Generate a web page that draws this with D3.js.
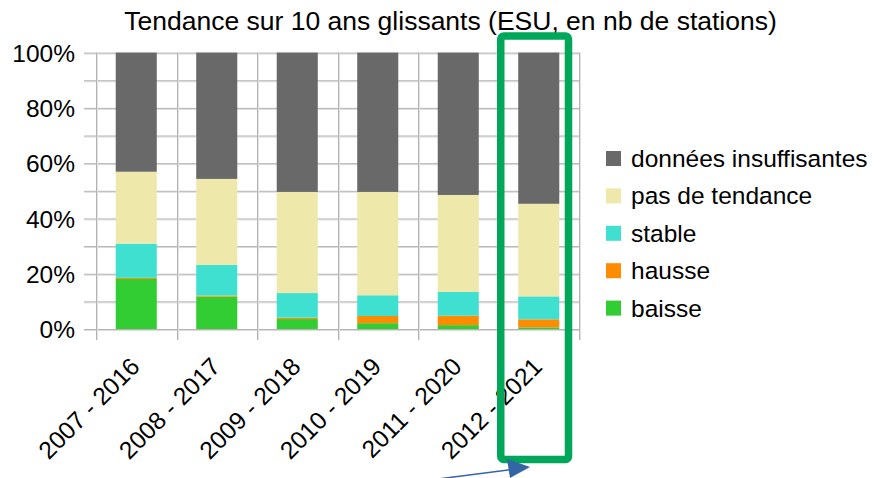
<!DOCTYPE html>
<html><head><meta charset="utf-8">
<script src="https://cdn.jsdelivr.net/npm/d3@7"></script>
<style>
body{margin:0;background:#fff;}
text{font-family:"Liberation Sans",Arial,sans-serif;fill:#000;}
</style></head>
<body>
<svg id="c" width="886" height="478"></svg>
<script>
const categories = ["2007 - 2016","2008 - 2017","2009 - 2018","2010 - 2019","2011 - 2020","2012 - 2021"];
const baisse = [18.1, 11.7, 3.6, 2.1, 1.4, 0.6];
const hausse = [0.4, 0.4, 0.5, 2.6, 3.4, 2.9];
const stable = [12.4, 11.1, 8.9, 7.5, 8.6, 8.3];
const pasDeTendance = [26.0, 31.1, 36.6, 37.4, 35.1, 33.5];
const donneesInsuffisantes = [43.1, 45.7, 50.4, 50.4, 51.5, 54.7];
const seriesNames = ["baisse","hausse","stable","pas de tendance","données insuffisantes"];
const seriesColors = ["#32cd32","#ff8c00","#40e0d0","#eee8aa","#696969"];
const yTicks = [0,0.1,0.2,0.3,0.4,0.5,0.6,0.7,0.8,0.9,1];
const yLabels = [0,0.2,0.4,0.6,0.8,1];
const title = "Tendance sur 10 ans glissants (ESU, en nb de stations)";

(function(){
const seriesValues = [baisse, hausse, stable, pasDeTendance, donneesInsuffisantes];
const rows = categories.map((c,i)=>{
  const r = {cat:c};
  seriesNames.forEach((s,k)=>{ r[s] = seriesValues[k][i]/100; });
  return r;
});
const stack = d3.stack().keys(seriesNames)(rows);

const svg = d3.select("#c");
const pl = 96, pr = 579, pt = 52.6, pb = 329;
const x = d3.scaleBand().domain(categories).range([pl,pr]).paddingInner(0.49).paddingOuter(0.245);
const y = d3.scaleLinear().domain([0,1]).range([pb, pt]);
const step = x.step();

// grid
const g = svg.append("g");
yTicks.forEach(t=>{
  g.append("line").attr("x1",84).attr("x2",pr).attr("y1",y(t)+1.5).attr("y2",y(t)+1.5).attr("stroke","#dcdcdc").attr("stroke-width",1);
  g.append("line").attr("x1",84).attr("x2",pr).attr("y1",y(t)+0.5).attr("y2",y(t)+0.5).attr("stroke","#b3b3b3").attr("stroke-width",1);
});
d3.range(categories.length+1).forEach(i=>{
  const xv = Math.round(pl + i*step);
  g.append("line").attr("x1",xv+0.5).attr("x2",xv+0.5).attr("y1",pt).attr("y2",pb+11).attr("stroke","#b3b3b3").attr("stroke-width",1);
  g.append("line").attr("x1",xv+1.5).attr("x2",xv+1.5).attr("y1",pt).attr("y2",pb+11).attr("stroke","#e2e2e2").attr("stroke-width",1);
});

// bars
svg.append("g").selectAll("g").data(stack).join("g")
  .attr("fill",(d,i)=>seriesColors[i])
  .selectAll("rect").data(d=>d).join("rect")
  .attr("x",d=>x(d.data.cat))
  .attr("width",x.bandwidth())
  .attr("y",d=>y(d[1]))
  .attr("height",d=>y(d[0])-y(d[1]));

// y axis labels
const yAxis = d3.axisLeft(y).tickValues(yLabels).tickFormat(d3.format(".0%")).tickSize(0).tickPadding(0);
const ya = svg.append("g").attr("transform","translate(75,0)").call(yAxis);
ya.select(".domain").remove();
ya.selectAll("text").attr("font-size",24.5).attr("font-family","Liberation Sans, Arial, sans-serif").attr("fill","#000").attr("dy","0.35em");

// x labels
svg.append("g").selectAll("text").data(categories).join("text")
  .attr("transform",d=>`translate(${x(d)+x.bandwidth()/2+5},368) rotate(-45)`)
  .attr("text-anchor","end")
  .attr("font-size",24.5)
  .text(d=>d);

// title
svg.append("text").attr("x",450.5).attr("y",29.5).attr("text-anchor","middle").attr("font-size",26.5).text(title);

// legend
const legendOrder = seriesNames.slice().reverse();
const legendColors = seriesColors.slice().reverse();
const lg = svg.append("g");
legendOrder.forEach((s,i)=>{
  const cy = 158.5 + i*37.4;
  lg.append("rect").attr("x",606).attr("y",cy-7.5).attr("width",15).attr("height",15).attr("fill",legendColors[i]);
  lg.append("text").attr("x",631).attr("y",cy).attr("dy","0.35em").attr("font-size",24.5).text(s);
});

// annotation: green highlight box and blue arrow
svg.append("rect").attr("x",500.75).attr("y",36).attr("width",67.75).attr("height",423.5)
  .attr("rx",3).attr("fill","none").attr("stroke","#00a65a").attr("stroke-width",7.5);
svg.append("line").attr("x1",438).attr("y1",479).attr("x2",512).attr("y2",469.5).attr("stroke","#3465a4").attr("stroke-width",1.5);
svg.append("path").attr("d","M507,459 L530,467 L510,478 Z").attr("fill","#3465a4");
})();
</script>
</body></html>
